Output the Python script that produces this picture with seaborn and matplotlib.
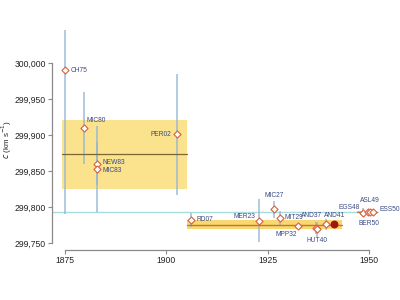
import pandas as pd
import matplotlib
matplotlib.use("Agg")
import matplotlib.pyplot as plt
import seaborn as sns

# --- DATA ---
labels = ["CH75", "MIC80", "NEW83", "MIC83", "PER02", "RD07", "MER23", "MIC27",
          "MIT29", "MPP32", "AND37", "HUT40", "AND41", "EGS48", "ASL49", "BER50", "ESS50"]
years = [1875.0, 1879.6, 1883.0, 1883.0, 1902.7, 1906.2, 1923.0, 1926.6,
         1928.1, 1932.6, 1937.0, 1937.1, 1939.4, 1948.6, 1949.8, 1950.4, 1951.0]
values = [299990, 299910, 299860, 299853, 299901, 299782, 299781, 299797,
          299785, 299774, 299771, 299769, 299776, 299792, 299793, 299793, 299792.5]
errors = [200, 50, 30, 60, 84, 10, 30, 12, 10, 4, 8, 10, 8, 6, 3, 1, 3]

# consensus bands: (start year, end year, centre, half width)
band_years_a = (1874.2, 1905.1)
band_val_a = 299873
band_hw_a = 48
band_years_b = (1905.1, 1943.3)
band_val_b = 299775.5
band_hw_b = 6
band_years_c = (1947.0, 1952.0)
band_val_c = 299792.5
band_hw_c = 1.5

recommended_year = 1941.4
recommended_val = 299776
true_c = 299792.458

# label placement: (dx pts, dy pts, ha)
label_pos = {
    "CH75": (4, 0, "left"), "MIC80": (2, 5, "left"), "NEW83": (4, 1, "left"),
    "MIC83": (4, -1, "left"), "PER02": (-4, 0, "right"), "RD07": (4, 0, "left"),
    "MER23": (-3, 3, "right"), "MIC27": (0, 10, "center"), "MIT29": (3, 0, "left"),
    "MPP32": (-1, -6, "right"), "AND37": (-3, 9, "center"), "HUT40": (0, -8, "center"),
    "AND41": (6, 6, "center"), "EGS48": (-2, 4, "right"), "ASL49": (1, 8, "center"),
    "BER50": (-1, -8, "center"), "ESS50": (5, 2, "left"),
}

df = pd.DataFrame({"label": labels, "year": years, "value": values, "err": errors})

sns.set_theme(style="ticks")
plt.rcParams["font.family"] = ["Liberation Sans", "DejaVu Sans"]

fig = plt.figure(figsize=(4, 3), dpi=100)
ax = fig.add_axes([0.13, 0.1667, 0.8325, 0.7333])

BAR_C = "#93b4d4"
TXT_C = "#3b4a86"
EDGE_C = "#d9603b"

# bands
ax.fill_between(band_years_a, band_val_a - band_hw_a, band_val_a + band_hw_a,
                color="#fbe28d", lw=0, zorder=1)
ax.plot(band_years_a, [band_val_a] * 2, color="#7a6630", lw=0.9, zorder=3)
ax.fill_between(band_years_b, band_val_b - band_hw_b, band_val_b + band_hw_b,
                color="#f9d873", lw=0, zorder=1)
ax.plot(band_years_b, [band_val_b] * 2, color="#c9741f", lw=1.0, zorder=3)
ax.fill_between(band_years_c, band_val_c - band_hw_c, band_val_c + band_hw_c,
                color="#f5b45a", lw=0, zorder=1)
ax.plot(band_years_c, [band_val_c] * 2, color="#d2702a", lw=0.8, zorder=3)

# true value
ax.axhline(true_c, xmin=0, xmax=0.98, color="#a6dcdc", lw=1.0, zorder=2)

# error bars
ax.vlines(df["year"], df["value"] - df["err"], df["value"] + df["err"],
          color=BAR_C, lw=1.1, alpha=0.9, zorder=2)

# points
sns.scatterplot(data=df, x="year", y="value", ax=ax, marker="D", s=13,
                facecolor="white", edgecolor=EDGE_C, linewidth=0.8, zorder=5, legend=False)
ax.scatter([recommended_year], [recommended_val], s=22, color="#a31515", zorder=6)

for lab, x, y in zip(labels, years, values):
    dx, dy, ha = label_pos[lab]
    ax.annotate(lab, (x, y), xytext=(dx, dy), textcoords="offset points",
                ha=ha, va="center", fontsize=4.8, color=TXT_C, zorder=7)

ax.set_xlim(1871.8, 1954.0)
ax.set_ylim(299740.3, 300045.8)
ax.set_xticks([1875, 1900, 1925, 1950])
ax.set_yticks([299750, 299800, 299850, 299900, 299950, 300000])
ax.yaxis.set_major_formatter(plt.FuncFormatter(lambda v, p: f"{v:,.0f}"))
ax.spines["left"].set_bounds(299750, 300000)
ax.spines["bottom"].set_bounds(1875, 1950)
for s in ["top", "right"]:
    ax.spines[s].set_visible(False)
for s in ["left", "bottom"]:
    ax.spines[s].set_color("#8a8a8a")
    ax.spines[s].set_linewidth(0.9)
ax.tick_params(axis="both", direction="out", length=3, width=0.8, color="#8a8a8a",
               labelsize=6.2, labelcolor="#222222", pad=1.5)
ax.set_xlabel("")
ax.set_ylabel(r"$c$ (km s$^{-1}$)", fontsize=5.8, color="#222222", va="center")
ax.yaxis.set_label_coords(-0.137, 0.5)

fig.savefig("out.png", dpi=100)
